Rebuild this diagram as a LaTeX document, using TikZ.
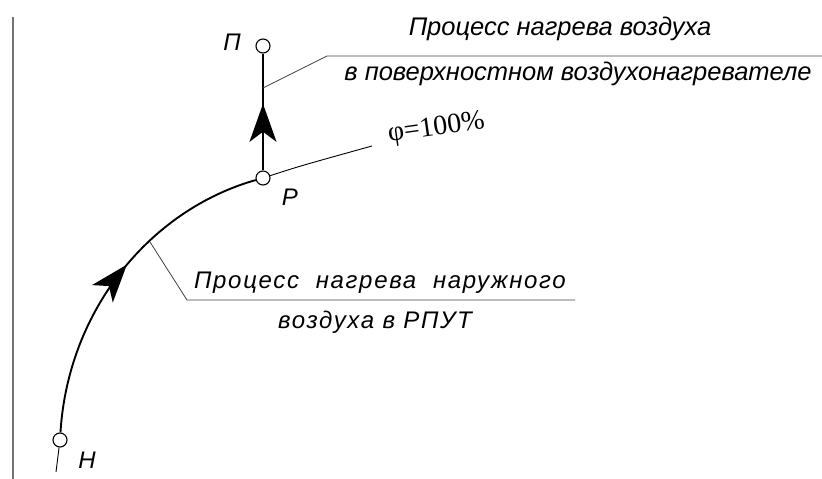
\documentclass[tikz,border=0pt]{standalone}
\usepackage{fontspec}
\setmainfont{Liberation Sans}
\newfontfamily\serfont{Liberation Serif}
\newfontfamily\gostfont[LetterSpace=7]{Liberation Sans}
\usetikzlibrary{arrows.meta,decorations.markings}

\begin{document}
\begin{tikzpicture}[
   x=1pt,y=-1pt,
   pnt/.style={draw,circle,fill=white,inner sep=0pt,minimum size=14pt,line width=1.1pt},
   proc/.style={line width=1.9pt},
   thin/.style={line width=0.9pt},
   lead/.style={line width=0.8pt,draw=black!75},
   txt/.style={anchor=base,inner sep=0pt,font=\fontsize{25.5}{28}\selectfont\itshape},
   gtxt/.style={anchor=base,inner sep=0pt,font=\fontsize{24}{28}\selectfont\gostfont\itshape},
   mid arr/.style={postaction={decorate},decoration={markings,
       mark=at position #1 with {\arrow{Stealth[length=38pt,width=27pt,inset=10pt]}}}}
 ]
  \useasboundingbox (0,0) rectangle (822,479);
  % axis on the left
  \draw[line width=1.3pt,draw=black!55] (13,17) -- (13,479);
  % state points
  \node[pnt] (H) at (60,440) {};
  \node[pnt] (P) at (263,178) {};
  \node[pnt] (Pi) at (263,46) {};
  \node[gtxt] (lH) at (87,468) {H};
  \node[gtxt] (lP) at (290,205) {P};
  \node[gtxt] (lPi) at (232,50) {П};
  % processes
  \draw[proc,mid arr=0.54] (H) .. controls (68,310) and (150,210) .. (P);
  \draw[proc,mid arr=0.57] (P) -- (Pi);
  \coordinate (h0) at (56,472);
  \draw[thin] (H) -- (h0);
  % phi = 100 %
  \coordinate (s1) at (372,146);
  \draw[thin] (P) .. controls (300,166) .. (s1);
  \node[anchor=base west,inner sep=0pt,rotate=8,font=\fontsize{28}{30}\selectfont\serfont] (phi)
    at (389,142) {φ=100\%};
  % leaders
  \coordinate (a1) at (263,88);
  \coordinate (k1) at (327,56);
  \coordinate (e1) at (822,56);
  \draw[lead] (a1) -- (k1) -- (e1);
  \coordinate (a2) at (150,242);
  \coordinate (k2) at (187,300);
  \coordinate (e2) at (575,300);
  \draw[lead] (a2) -- (k2) -- (e2);
  % texts
  \node[txt] (t1) at (560,35) {Процесс нагрева воздуха};
  \node[txt] (t2) at (578,80) {в поверхностном воздухонагревателе};
  \node[gtxt] (t3) at (380,288) {Процесс\ \ нагрева\ \ наружного};
  \node[gtxt] (t4) at (375,328) {воздуха\ в\ РПУТ};
\end{tikzpicture}
\end{document}
